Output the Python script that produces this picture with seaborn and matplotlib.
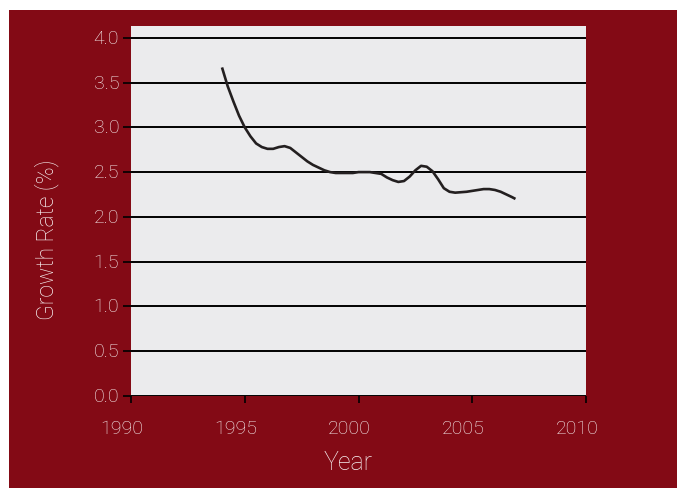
import matplotlib
matplotlib.use("Agg")
import matplotlib.pyplot as plt
import matplotlib.transforms as mtransforms
from matplotlib.patches import Rectangle
import seaborn as sns
import pandas as pd

# Data (quarter-year readings)
years = [1994.00, 1994.25, 1994.50, 1994.75, 1995.00, 1995.25, 1995.50, 1995.75,
         1996.00, 1996.25, 1996.50, 1996.75, 1997.00, 1997.25, 1997.50, 1997.75,
         1998.00, 1998.25, 1998.50, 1998.75, 1999.00, 1999.25, 1999.50, 1999.75,
         2000.00, 2000.25, 2000.50, 2000.75, 2001.00, 2001.25, 2001.50, 2001.75,
         2002.00, 2002.25, 2002.50, 2002.75, 2003.00, 2003.25, 2003.50, 2003.75,
         2004.00, 2004.25, 2004.50, 2004.75, 2005.00, 2005.25, 2005.50, 2005.75,
         2006.00, 2006.25, 2006.50, 2006.75, 2006.90]
growth = [3.67, 3.46, 3.29, 3.13, 3.00, 2.90, 2.82, 2.78,
          2.76, 2.76, 2.78, 2.79, 2.77, 2.72, 2.67, 2.62,
          2.58, 2.55, 2.52, 2.50, 2.49, 2.49, 2.49, 2.49,
          2.50, 2.50, 2.50, 2.49, 2.48, 2.44, 2.41, 2.39,
          2.40, 2.45, 2.52, 2.57, 2.56, 2.51, 2.42, 2.32,
          2.28, 2.27, 2.275, 2.28, 2.29, 2.30, 2.31, 2.31,
          2.30, 2.28, 2.25, 2.22, 2.20]
x_ticks = [1990, 1995, 2000, 2005, 2010]
y_ticks = [0.0, 0.5, 1.0, 1.5, 2.0, 2.5, 3.0, 3.5, 4.0]

RED = "#830A15"
PANEL = "#EBEBED"
TXT = "#F7F0F0"

sns.set_theme(style="white")
plt.rcParams['font.family'] = ['Roboto', 'DejaVu Sans']

df = pd.DataFrame({"Year": years, "Growth": growth})

fig = plt.figure(figsize=(6.77, 4.89), dpi=100, facecolor="white")
fig.add_artist(Rectangle((9/677, 0), 1, 1 - 11/489, transform=fig.transFigure,
                         facecolor=RED, edgecolor="none", zorder=-5))
ax = fig.add_axes([131/677, 1 - 396.7/489, 455/677, 369.4/489])
ax.set_facecolor(PANEL)

sns.lineplot(data=df, x="Year", y="Growth", ax=ax, color="#231F20",
             linewidth=1.9, zorder=3)
for ln in ax.get_lines():
    ln.set_solid_joinstyle("round")
    ln.set_solid_capstyle("butt")

ax.set_xlim(1990, 2010)
ax.set_ylim(0, 4.13)
ax.set_xticks(x_ticks)
ax.set_yticks(y_ticks)
ax.set_xticklabels([str(t) for t in x_ticks])
ax.set_yticklabels([f"{t:.1f}" for t in y_ticks])

for s in ax.spines.values():
    s.set_visible(False)
ax.grid(False)
for t in y_ticks:
    ax.axhline(t, color="black", linewidth=1.4, zorder=2)

ax.tick_params(axis="both", which="major", labelsize=14, labelcolor=TXT,
               color="black", direction="out", bottom=True, left=True)
ax.tick_params(axis="x", length=5, width=1.2, pad=12)
ax.tick_params(axis="y", length=6, width=1.2, pad=2.5)
for lbl in ax.get_xticklabels() + ax.get_yticklabels():
    lbl.set_fontweight("light")

offx = mtransforms.ScaledTranslation(-9/100, 0, fig.dpi_scale_trans)
for lbl in ax.get_xticklabels():
    lbl.set_transform(lbl.get_transform() + offx)
offy = mtransforms.ScaledTranslation(0, 2/100, fig.dpi_scale_trans)
for lbl in ax.get_yticklabels():
    lbl.set_transform(lbl.get_transform() + offy)

ax.set_xlabel("Year", fontsize=18, color=TXT, fontweight="light")
ax.set_ylabel("Growth Rate (%)", fontsize=16.5, color=TXT, fontweight="light")
ax.xaxis.set_label_coords(0.477, -0.146)
ax.yaxis.set_label_coords(-0.158, 0.424)

fig.savefig("out.png", dpi=100, facecolor="white")
